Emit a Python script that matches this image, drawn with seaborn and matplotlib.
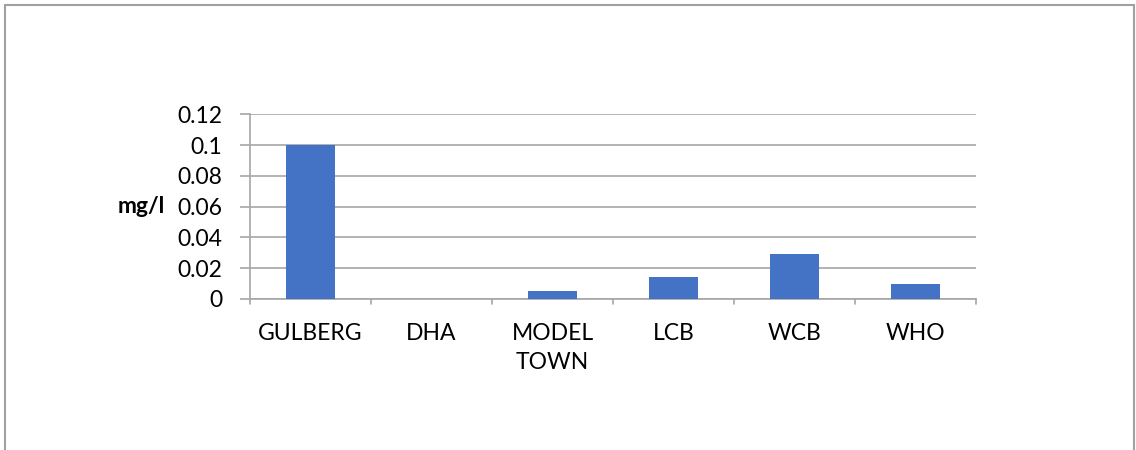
import matplotlib
matplotlib.use("Agg")
import matplotlib.pyplot as plt
import seaborn as sns
import pandas as pd
from matplotlib.lines import Line2D

# Concentration by site (mg/l)
sites = ["GULBERG", "DHA", "MODEL\nTOWN", "LCB", "WCB", "WHO"]
values = [0.10, 0.0, 0.005, 0.014, 0.029, 0.01]
yticks = [0, 0.02, 0.04, 0.06, 0.08, 0.1, 0.12]
ytick_labels = ["0", "0.02", "0.04", "0.06", "0.08", "0.1", "0.12"]

sns.set_theme(style="white")
plt.rcParams["font.family"] = ["Lato", "DejaVu Sans"]

df = pd.DataFrame({"site": sites, "value": values})

fig = plt.figure(figsize=(11.36, 4.5), dpi=100)
ax = fig.add_axes([0.2201, 0.3356, 0.6391, 0.4104])

grey = "#A6A6A6"
fs = 16.5
sns.barplot(data=df, x="site", y="value", color="#4472C4", width=0.4,
            saturation=1, linewidth=0, ax=ax, zorder=3)

ax.set_ylim(0, 0.12)
ax.set_xlim(-0.5, len(sites) - 0.5)
ax.set_yticks(yticks)
ax.set_yticklabels(ytick_labels, fontsize=fs, color="black")
ax.yaxis.grid(True, color=grey, linewidth=1.2, zorder=0)
ax.set_axisbelow(True)

# category boundary ticks on the x axis
ax.set_xticks(range(len(sites)))
ax.set_xticklabels(sites, fontsize=fs, color="black", linespacing=1.5)
ax.tick_params(axis="x", length=0, pad=17)
for b in [i - 0.5 for i in range(len(sites) + 1)]:
    ax.plot([b, b], [0, -0.0035], color=grey, lw=1.2, clip_on=False, zorder=1)
ax.tick_params(axis="y", length=7, width=1.2, color=grey, left=True, pad=13)

for s in ["top", "right"]:
    ax.spines[s].set_visible(False)
for s in ["left", "bottom"]:
    ax.spines[s].set_color(grey)
    ax.spines[s].set_linewidth(1.2)

ax.set_xlabel("")
ax.set_ylabel("mg/l", fontsize=fs, fontweight="bold", rotation=0,
              color="black", va="center", ha="right")
ax.yaxis.set_label_coords(-0.117, 0.5)

# outer frame (open at the bottom)
fx0, fx1, fy1 = 4.5 / 1136, 1133.5 / 1136, 1 - 4.5 / 450
frame = dict(color="#A0A0A0", lw=1.5, transform=fig.transFigure)
fig.add_artist(Line2D([fx0, fx0], [0, fy1], **frame))
fig.add_artist(Line2D([fx0, fx1], [fy1, fy1], **frame))
fig.add_artist(Line2D([fx1, fx1], [0, fy1], **frame))

fig.savefig("out.png", dpi=100)
